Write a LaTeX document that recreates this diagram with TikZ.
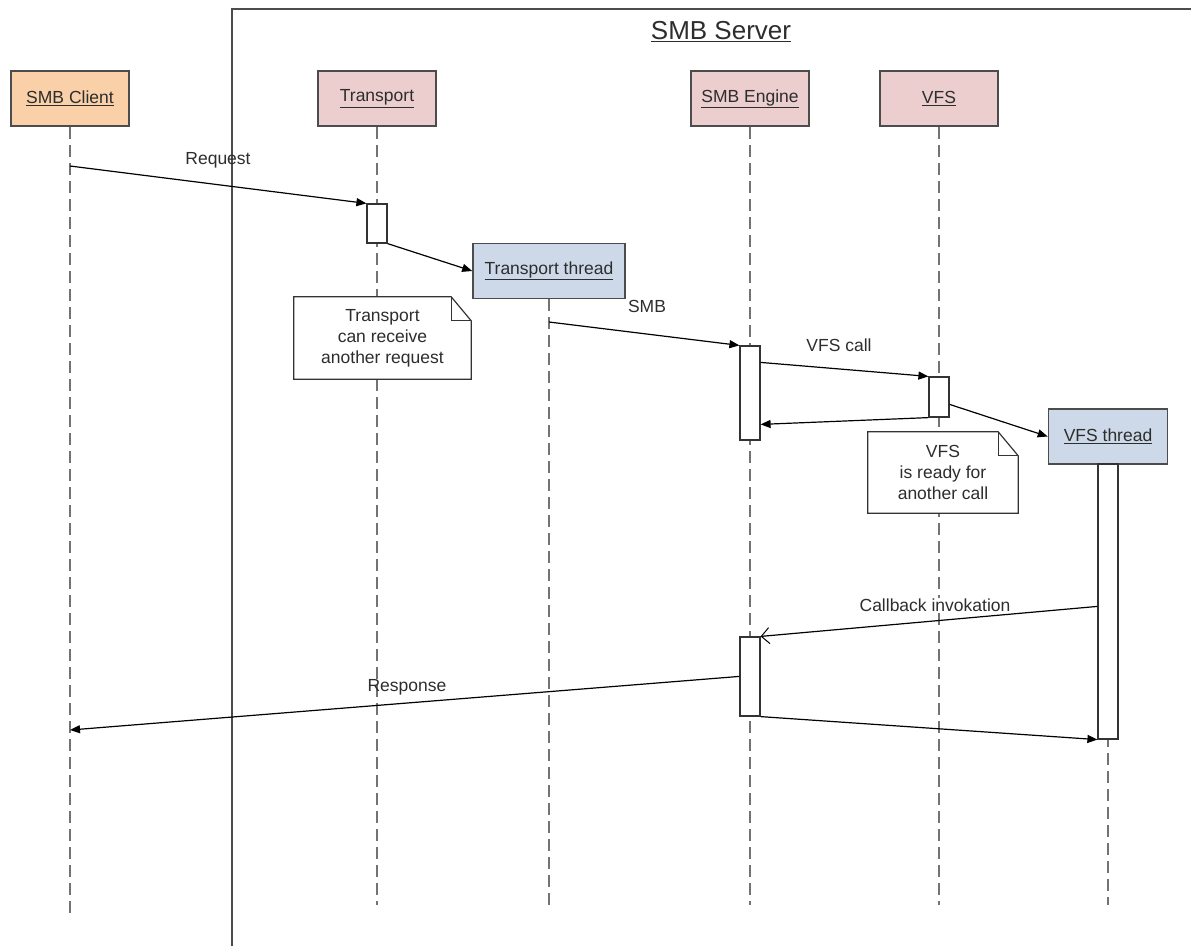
\documentclass[tikz,border=0pt]{standalone}
\usepackage{fontspec}
\setmainfont{Liberation Sans}
\usetikzlibrary{arrows.meta,calc}

\definecolor{clientfill}{RGB}{250,208,168}
\definecolor{partfill}{RGB}{236,206,206}
\definecolor{threadfill}{RGB}{205,217,232}
\definecolor{lifegray}{RGB}{115,115,115}
\definecolor{textgray}{RGB}{45,45,45}

\begin{document}
\begin{tikzpicture}[x=1pt,y=-1pt,
  every node/.style={text=textgray,font=\fontsize{17.5}{21}\selectfont},
  head/.style={draw=black!70,line width=1.6pt,minimum width=118,minimum height=55,inner sep=0pt},
  thread/.style={head,fill=threadfill},
  life/.style={draw=lifegray,line width=1.5pt,dash pattern=on 12pt off 6pt},
  act/.style={draw=black!80,fill=white,line width=1.2pt,minimum width=20,inner sep=0pt},
  note/.style={fill=white,inner sep=0pt,align=center},
  noteline/.style={draw=black!80,line width=1.2pt},
  msg/.style={draw=black,line width=1.2pt,-{Triangle[length=10pt,width=8pt]}},
  cb/.style={draw=black,line width=1.2pt,-{Straight Barb[length=8pt,width=16pt,line width=1pt]}}]
\useasboundingbox (0,0) rectangle (1191,946);
\draw [black!70,line width=1.5pt] (232,946) -- (232,9) -- (1191,9);
\node (server) at (721,32) {\fontsize{26}{30}\selectfont\underline{SMB Server}};
\node [head,fill=clientfill] (client) at (70,98.5) {\underline{SMB Client}};
\node [head,fill=partfill] (transport) at (377,98.5) {\underline{Transport}};
\node [head,fill=partfill] (engine) at (750,98.5) {\underline{SMB Engine}};
\node [head,fill=partfill] (vfs) at (939,98.5) {\underline{VFS}};
\node [thread,minimum width=152] (tthread) at (549,271) {\underline{Transport thread}};
\node [thread,minimum width=119] (vthread) at (1108,436.5) {\underline{VFS thread}};
\coordinate (clientend) at (70,918);
\coordinate (transportend) at (377,905);
\coordinate (tthreadend) at (549,905);
\coordinate (engineend) at (750,905);
\coordinate (vfsend) at (939,905);
\coordinate (vthreadend) at (1108,905);
\draw [life] (client.south) -- (clientend);
\draw [life] (transport.south) -- (transportend);
\draw [life] (tthread.south) -- (tthreadend);
\draw [life] (engine.south) -- (engineend);
\draw [life] (vfs.south) -- (vfsend);
\draw [life] (vthread.south) -- (vthreadend);
\node [note,minimum width=177,minimum height=82] (tnote) at (382.5,338) {Transport\\can receive\\another request};
\draw [noteline] (tnote.north west) -- ($(tnote.north east)+(-20,0)$) -- ($(tnote.north east)+(0,24)$) |- (tnote.south west) -- cycle;
\draw [noteline] ($(tnote.north east)+(-20,0)$) |- ($(tnote.north east)+(0,24)$);
\node [note,minimum width=150,minimum height=81] (vnote) at (943,472.5) {VFS\\is ready for\\another call};
\draw [noteline] (vnote.north west) -- ($(vnote.north east)+(-20,0)$) -- ($(vnote.north east)+(0,24)$) |- (vnote.south west) -- cycle;
\draw [noteline] ($(vnote.north east)+(-20,0)$) |- ($(vnote.north east)+(0,24)$);
\node [act,minimum height=39] (tact) at (377,223.5) {};
\node [act,minimum height=94] (eact) at (750,393) {};
\node [act,minimum height=40] (vact) at (939,397) {};
\node [act,minimum height=275] (vtact) at (1108,601.5) {};
\node [act,minimum height=79] (eact2) at (750,676.5) {};
\coordinate (reqstart) at (70,166);
\coordinate (smbstart) at (549,322);
\coordinate (respend) at (70,730);
\draw [msg] (reqstart) -- (tact.north west);
\node (reqlbl) at (218,160) {Request};
\draw [msg] (tact.south east) -- (tthread.west);
\draw [msg] (smbstart) -- (eact.north west);
\node (smblbl) at (647,306) {SMB};
\draw [msg] ($(eact.north east)+(0,17)$) -- (vact.north west);
\node (calllbl) at (839,345) {VFS call};
\draw [msg] (vact.south west) -- ($(eact.north east)+(0,79)$);
\draw [msg] ($(vact.north east)+(0,28)$) -- (vthread.west);
\draw [cb] ($(vtact.north west)+(0,143)$) -- (eact2.north east);
\node [fill=white,inner sep=1pt] (cblbl) at (935,605) {Callback invokation};
\draw [msg] ($(eact2.north west)+(0,40)$) -- (respend);
\node (resplbl) at (407,687) {Response};
\draw [msg] (eact2.south east) -- (vtact.south west);
\end{tikzpicture}
\end{document}
